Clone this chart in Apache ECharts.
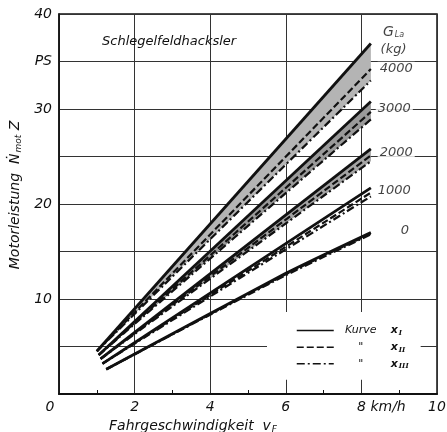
<!DOCTYPE html>
<html>
<head>
<meta charset="utf-8">
<script src="https://cdn.jsdelivr.net/npm/echarts@6/dist/echarts.min.js"></script>
<style>
  html, body { margin: 0; padding: 0; background: #fff; }
  #chart { width: 447px; height: 432px; }
</style>
</head>
<body>
<div id="chart"></div>
<script>
// Motorleistung N (PS) ueber Fahrgeschwindigkeit v_F (km/h), je Ladegewicht G_La
const g0_I = [[1.25, 2.6], [6, 12.7], [8.25, 17.0]];
const g0_II = [[1.25, 2.6], [6, 12.6], [8.25, 16.9]];
const g0_III = [[1.25, 2.6], [6, 12.5], [8.25, 16.8]];

const g1000_I = [[1.15, 3.2], [8.25, 21.7]];
const g1000_II = [[1.15, 3.2], [8.25, 21.2]];
const g1000_III = [[1.15, 3.2], [8.25, 20.8]];

const g2000_I = [[1.1, 3.7], [8.25, 25.8]];
const g2000_II = [[1.1, 3.7], [8.25, 25.1]];
const g2000_III = [[1.1, 3.7], [8.25, 24.5]];

const g3000_I = [[1.05, 4.1], [8.25, 30.8]];
const g3000_II = [[1.05, 4.1], [8.25, 29.7]];
const g3000_III = [[1.05, 4.1], [8.25, 28.9]];

const g4000_I = [[1.0, 4.5], [8.25, 36.9]];
const g4000_II = [[1.0, 4.5], [8.25, 34.2]];
const g4000_III = [[1.0, 4.5], [8.25, 33.0]];

const curvesI = [g0_I, g1000_I, g2000_I, g3000_I, g4000_I];
const curvesII = [g0_II, g1000_II, g2000_II, g3000_II, g4000_II];
const curvesIII = [g0_III, g1000_III, g2000_III, g3000_III, g4000_III];

// shaded bands between Kurve I and Kurve III
const bands = [
  { upper: g4000_I, lower: g4000_III, color: '#b4b4b4' },
  { upper: g3000_I, lower: g3000_III, color: '#9a9a9a' },
  { upper: g2000_I, lower: g2000_III, color: '#a4a4a4' }
];

const xTicks = [0, 2, 4, 6, 8, 10];
const yTickLabels = { 10: '10', 20: '20', 30: '30', 35: 'PS', 40: '40' };

const sideText = ['{g|G}{s|La}', '(kg)', '4000', '3000', '2000', '1000', '0'];
const sidePos = [[8.85, 38.1], [8.85, 36.2], [8.92, 34.3], [8.87, 30.0], [8.92, 25.4], [8.87, 21.4], [9.15, 17.2]];

const font = 'DejaVu Sans';
const ink = '#111';

const chart = echarts.init(document.getElementById('chart'));

const lineStyles = {
  I: { type: 'solid', width: 2.8 },
  II: { type: [7, 3], width: 2.2 },
  III: { type: [8, 3, 2, 3], width: 2.2 }
};

const series = [];

series.push({
  type: 'custom',
  z: 1,
  silent: true,
  data: bands.map((b, i) => [b.upper[0][0], b.upper[0][1], i]),
  renderItem(params, api) {
    const b = bands[api.value(2)];
    const pts = b.upper.map(p => api.coord(p))
      .concat(b.lower.slice().reverse().map(p => api.coord(p)));
    return {
      type: 'polygon',
      shape: { points: pts },
      style: { fill: b.color, stroke: null }
    };
  }
});

[['I', curvesI], ['II', curvesII], ['III', curvesIII]].forEach(([name, list]) => {
  list.forEach(data => {
    series.push({
      name: name,
      type: 'line',
      z: 3,
      data: data,
      symbol: 'none',
      smooth: 0.2,
      lineStyle: Object.assign({ color: ink }, lineStyles[name]),
      itemStyle: { color: ink }
    });
  });
});

series.push({
  type: 'scatter',
  z: 5,
  silent: true,
  symbolSize: 0,
  data: sidePos.map((p, i) => ({ value: p, name: sideText[i] })),
  label: {
    show: true,
    position: 'inside',
    formatter: p => p.name,
    fontFamily: font,
    fontStyle: 'italic',
    fontSize: 13,
    color: ink,
    backgroundColor: '#fff',
    padding: [0, 2],
    rich: {
      g: { fontFamily: font, fontStyle: 'italic', fontSize: 14, color: ink },
      s: { fontFamily: font, fontStyle: 'italic', fontSize: 8, color: ink, verticalAlign: 'bottom', padding: [6, 0, 0, 1] }
    }
  }
});

const option = {
  backgroundColor: '#fff',
  animation: false,
  title: {
    text: 'Schlegelfeldhacksler',
    left: 97,
    top: 30,
    textStyle: { fontFamily: font, fontStyle: 'italic', fontWeight: 'normal', fontSize: 13, color: ink }
  },
  legend: {
    data: ['I', 'II', 'III'],
    orient: 'vertical',
    left: 267,
    top: 312,
    padding: [13, 12, 10, 29],
    backgroundColor: '#fff',
    itemWidth: 37,
    itemHeight: 14,
    itemGap: 5,
    z: 10,
    lineStyle: { width: 1.5 },
    itemStyle: { opacity: 0 },
    textStyle: {
      fontFamily: font, fontStyle: 'italic', fontSize: 11, color: ink,
      rich: {
        k: { width: 44, align: 'center', fontFamily: font, fontStyle: 'italic', fontSize: 11, color: ink },
        x: { fontFamily: font, fontWeight: 'bold', fontSize: 11, color: ink, padding: [0, 0, 0, 8] },
        s: { fontFamily: 'DejaVu Serif', fontWeight: 'bold', fontSize: 7, color: ink, verticalAlign: 'bottom', padding: [5, 0, 0, 1] }
      }
    },
    formatter: name => (name === 'I' ? '{k|Kurve}' : '{k|"}') + '{x|x}{s|' + name + '}'
  },
  grid: {
    left: 59,
    right: 10,
    top: 14,
    bottom: 38,
    show: true,
    borderColor: ink,
    borderWidth: 1.5,
    outerBoundsMode: 'none'
  },
  xAxis: {
    type: 'value',
    min: 0,
    max: 10,
    interval: 2,
    name: 'Fahrgeschwindigkeit  {v|v}{s|F}',
    nameLocation: 'middle',
    nameGap: 19,
    nameTextStyle: {
      fontFamily: font, fontStyle: 'italic', fontSize: 14, color: ink,
      padding: [0, 110, 0, 0],
      rich: {
        v: { fontFamily: font, fontStyle: 'italic', fontSize: 14, color: ink },
        s: { fontFamily: font, fontStyle: 'italic', fontSize: 9, color: ink, verticalAlign: 'bottom', padding: [7, 0, 0, 1] }
      }
    },
    axisLine: { lineStyle: { color: ink, width: 2 } },
    axisTick: { show: false, inside: true },
    minorTick: { show: true, splitNumber: 2, length: 4, lineStyle: { color: ink, width: 1 } },
    splitLine: { show: true, lineStyle: { color: '#333', width: 1 } },
    axisLabel: {
      margin: 6,
      fontFamily: font, fontStyle: 'italic', fontSize: 14, color: ink,
      customValues: xTicks,
      formatter: v => v === 0 ? '{z|0}' : v === 8 ? '{e|8 km/h}' : String(v),
      rich: {
        z: { fontFamily: font, fontStyle: 'italic', fontSize: 14, color: ink, padding: [0, 18, 0, 0] },
        e: { fontFamily: font, fontStyle: 'italic', fontSize: 14, color: ink, padding: [0, 0, 0, 40] }
      }
    }
  },
  yAxis: {
    type: 'value',
    min: 0,
    max: 40,
    interval: 5,
    name: 'Motorleistung  {n|Ṅ}{s|mot} {n|Z}',
    nameLocation: 'middle',
    nameGap: 31,
    nameTextStyle: {
      fontFamily: font, fontStyle: 'italic', fontSize: 14, color: ink,
      padding: [0, 0, 0, 18],
      rich: {
        n: { fontFamily: font, fontStyle: 'italic', fontSize: 14, color: ink },
        s: { fontFamily: font, fontStyle: 'italic', fontSize: 9, color: ink, verticalAlign: 'bottom', padding: [7, 0, 0, 1] }
      }
    },
    axisLine: { show: true, lineStyle: { color: ink, width: 1.5 } },
    axisTick: { show: false },
    splitLine: { show: true, lineStyle: { color: '#333', width: 1 } },
    axisLabel: {
      margin: 7,
      fontFamily: font, fontStyle: 'italic', fontSize: 14, color: ink,
      formatter: v => yTickLabels[v] || ''
    }
  },
  series: series
};

chart.setOption(option);
</script>
</body>
</html>
